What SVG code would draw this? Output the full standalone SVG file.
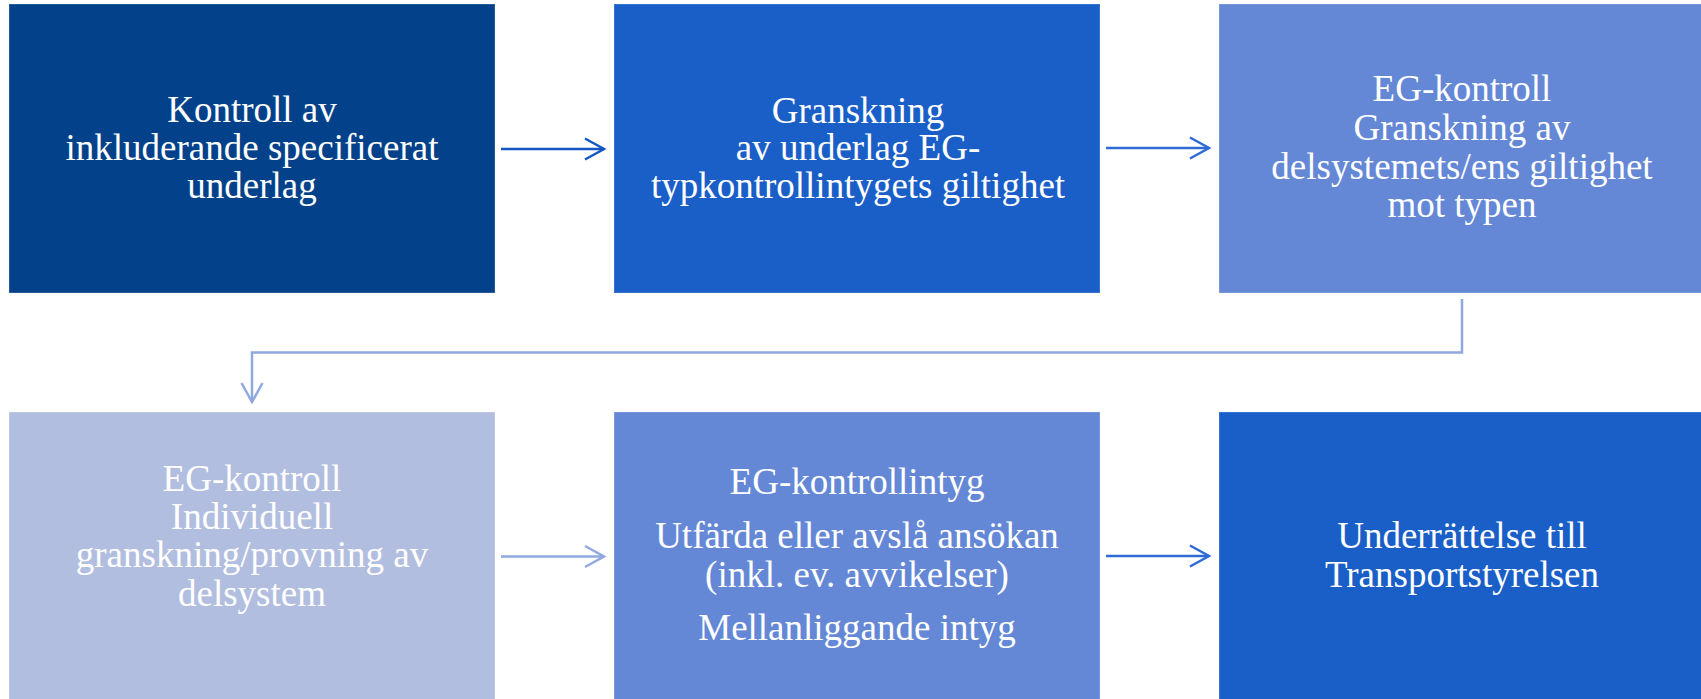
<svg xmlns="http://www.w3.org/2000/svg" width="1701" height="699" viewBox="0 0 1701 699">
<style>
  .box { stroke: #ffffff; stroke-opacity: 0.25; stroke-width: 1; }
  .lbl { font-family: "Liberation Serif", "Times New Roman", serif; font-size: 37px; fill: #ffffff; text-anchor: middle; }
  .conn { fill: none; stroke-width: 2.5; }
</style>
<defs>
  <marker id="hDark" markerUnits="userSpaceOnUse" markerWidth="26" markerHeight="26" viewBox="-23 -13 26 26" refX="0" refY="0" orient="auto">
    <path d="M-19,-10.5 L0,0 L-19,10.5" fill="none" stroke="#1556C2" stroke-width="2.5"/>
  </marker>
  <marker id="hMid" markerUnits="userSpaceOnUse" markerWidth="26" markerHeight="26" viewBox="-23 -13 26 26" refX="0" refY="0" orient="auto">
    <path d="M-19,-10.5 L0,0 L-19,10.5" fill="none" stroke="#2E6BD6" stroke-width="2.5"/>
  </marker>
  <marker id="hLight" markerUnits="userSpaceOnUse" markerWidth="26" markerHeight="26" viewBox="-23 -13 26 26" refX="0" refY="0" orient="auto">
    <path d="M-19,-10.5 L0,0 L-19,10.5" fill="none" stroke="#8FA8E0" stroke-width="2.5"/>
  </marker>
</defs>
<rect width="1701" height="699" fill="#ffffff"/>

<g id="connectors">
  <path class="conn" d="M501,149 H604" stroke="#1556C2" marker-end="url(#hDark)"/>
  <path class="conn" d="M1106,148 H1209" stroke="#2E6BD6" marker-end="url(#hMid)"/>
  <path class="conn" d="M1462,299 V352.5 H252 V402" stroke="#8FA8E0" marker-end="url(#hLight)"/>
  <path class="conn" d="M501,556.5 H604" stroke="#8FA8E0" marker-end="url(#hLight)"/>
  <path class="conn" d="M1106,556 H1209" stroke="#2E6BD6" marker-end="url(#hMid)"/>
</g>

<g id="node1">
  <rect class="box" x="9" y="4" width="486" height="289" fill="#03428A"/>
  <text class="lbl" x="252" y="122">Kontroll av</text>
  <text class="lbl" x="252" y="160">inkluderande specificerat</text>
  <text class="lbl" x="252" y="198">underlag</text>
</g>
<g id="node2">
  <rect class="box" x="614" y="4" width="486" height="289" fill="#1A5EC8"/>
  <text class="lbl" x="858" y="123">Granskning</text>
  <text class="lbl" x="858" y="160">av underlag EG-</text>
  <text class="lbl" x="858" y="198">typkontrollintygets giltighet</text>
</g>
<g id="node3">
  <rect class="box" x="1219" y="4" width="486" height="289" fill="#6488D6"/>
  <text class="lbl" x="1462" y="101">EG-kontroll</text>
  <text class="lbl" x="1462" y="140">Granskning av</text>
  <text class="lbl" x="1462" y="179">delsystemets/ens giltighet</text>
  <text class="lbl" x="1462" y="217">mot typen</text>
</g>
<g id="node4">
  <rect class="box" x="9" y="412" width="486" height="289" fill="#B2BEDF"/>
  <text class="lbl" x="252" y="491">EG-kontroll</text>
  <text class="lbl" x="252" y="529">Individuell</text>
  <text class="lbl" x="252" y="567">granskning/provning av</text>
  <text class="lbl" x="252" y="606">delsystem</text>
</g>
<g id="node5">
  <rect class="box" x="614" y="412" width="486" height="289" fill="#6488D6"/>
  <text class="lbl" x="857" y="494">EG-kontrollintyg</text>
  <text class="lbl" x="857" y="548">Utfärda eller avslå ansökan</text>
  <text class="lbl" x="857" y="587">(inkl. ev. avvikelser)</text>
  <text class="lbl" x="857" y="640">Mellanliggande intyg</text>
</g>
<g id="node6">
  <rect class="box" x="1219" y="412" width="486" height="289" fill="#1A5EC8"/>
  <text class="lbl" x="1462" y="548">Underrättelse till</text>
  <text class="lbl" x="1462" y="587">Transportstyrelsen</text>
</g>
</svg>
